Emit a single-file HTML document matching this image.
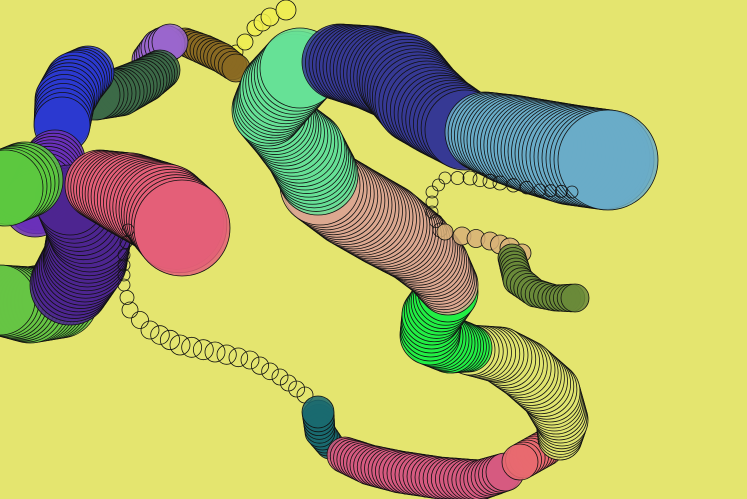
<!DOCTYPE html>
<html><head><meta charset="utf-8"><style>
html,body{margin:0;padding:0;background:#e4e56f;}
svg{display:block}
</style></head><body>
<svg id="chart" width="747" height="499" viewBox="0 0 747 499" xmlns="http://www.w3.org/2000/svg">
<rect width="747" height="499" fill="#e4e56f"/>
</svg>
<script>
// each trail: control points [x, y, radius], plus its colour
const trailYellowSmall = [[236,52,7],[245,42,8],[255,28,8],[270,17,9],[286,10,10]];
const trailBrown = [[185,42,14],[205,50,15],[222,58,15],[236,68,14]];
const trailLavender = [[150,60,18],[160,48,19],[170,42,18]];
const trailDarkGreen = [[160,70,20],[145,80,22],[120,92,24],[95,95,25]];
const trailBlue = [[88,72,26],[75,82,30],[65,100,30],[62,125,28]];
const trailPurpleTop = [[55,160,30],[45,185,32],[35,205,32]];
const trailGreenBottom = [[60,300,38],[30,305,38],[0,300,35]];
const trailDarkPurple = [[70,285,40],[85,260,42],[90,230,42],[70,200,35]];
const trailGreenLeft = [[25,180,38],[5,188,38]];
const trailPink = [[100,185,35],[130,195,42],[165,210,46],[182,228,48]];
const trailTinyLeft = [[128,230,6],[124,255,6],[124,285,6],[130,310,8],[150,330,9],[180,345,10],[215,352,10],[250,360,9],[280,377,8],[305,395,8]];
const trailTeal = [[330,445,14],[320,432,15],[318,412,16]];
const trailPinkBottom = [[345,455,18],[370,465,20],[400,472,21],[440,478,21],[480,480,20],[505,472,19]];
const trailLightRed = [[545,448,18],[520,462,18]];
const trailLightGreen = [[560,438,22],[562,420,26],[550,392,30],[525,370,30],[500,355,28],[470,350,25]];
const trailBrightGreen = [[468,348,24],[450,345,28],[430,335,30],[432,315,30],[448,292,30]];
const trailSalmon = [[448,285,30],[435,265,34],[415,245,38],[385,225,42],[350,205,42],[320,185,40]];
const trailMint = [[318,175,40],[305,150,40],[285,130,36],[268,110,36],[280,90,40],[300,68,40]];
const trailNavy = [[340,62,38],[372,68,42],[402,78,45],[420,100,45],[440,115,42],[465,130,40]];
const trailLightBlue = [[485,132,40],[512,140,45],[542,148,48],[572,155,50],[608,160,50]];
const trailTinyRight = [[440,230,7],[432,212,6],[432,192,6],[445,178,6],[470,178,7],[500,183,7],[540,190,6],[572,192,6]];
const trailTinyMid = [[445,232,8],[462,236,9],[490,241,9],[510,248,10],[522,253,9]];
const trailOlive = [[512,258,14],[518,280,15],[535,293,14],[555,298,13],[575,298,14]];

const trails = [
 ['trail-yellow-small', trailYellowSmall, '#f0ee50'],
 ['trail-brown', trailBrown, '#8a6a22'],
 ['trail-lavender', trailLavender, '#9a66cc'],
 ['trail-dark-green', trailDarkGreen, '#3c6a48'],
 ['trail-blue', trailBlue, '#2c3ad0'],
 ['trail-purple-top', trailPurpleTop, '#6a30b8'],
 ['trail-green-bottom', trailGreenBottom, '#66c444'],
 ['trail-dark-purple', trailDarkPurple, '#4e2690'],
 ['trail-green-left', trailGreenLeft, '#5cc840'],
 ['trail-pink', trailPink, '#e45f78'],
 ['trail-tiny-left', trailTinyLeft, 'none'],
 ['trail-teal', trailTeal, '#1a6a70'],
 ['trail-pink-bottom', trailPinkBottom, '#d65a80'],
 ['trail-light-red', trailLightRed, '#e86a70'],
 ['trail-light-green', trailLightGreen, '#dfe470'],
 ['trail-bright-green', trailBrightGreen, '#22ee44'],
 ['trail-salmon', trailSalmon, '#dca890'],
 ['trail-mint', trailMint, '#66e096'],
 ['trail-navy', trailNavy, '#363a94'],
 ['trail-light-blue', trailLightBlue, '#6aacc8'],
 ['trail-tiny-right', trailTinyRight, 'none'],
 ['trail-tiny-mid', trailTinyMid, '#d8b078'],
 ['trail-olive', trailOlive, '#6a8a3a']
];
const svg = document.getElementById('chart');
const NS = 'http://www.w3.org/2000/svg';
trails.forEach(([name, pts, color]) => {
  const g = document.createElementNS(NS, 'g');
  
  
  svg.appendChild(g);
  const big = pts.some(p => p[2] > 12);
  for (let i = 0; i < pts.length; i++) {
    const a = pts[i], b = pts[i + 1] || pts[i];
    const d = Math.hypot(b[0] - a[0], b[1] - a[1]);
    const n = (i === pts.length - 1) ? 1 : Math.max(1, Math.round(d / (big ? 4 : 12)));
    for (let k = 0; k < n; k++) {
      const t = k / n;
      const c = document.createElementNS(NS, 'circle');
      
      
      c.setAttribute('cx', a[0] + (b[0] - a[0]) * t);
      c.setAttribute('cy', a[1] + (b[1] - a[1]) * t);
      c.setAttribute('r', a[2] + (b[2] - a[2]) * t);
      c.setAttribute('fill', color);
      c.setAttribute('fill-opacity', color === 'none' ? 0 : 0.85);
      c.setAttribute('stroke', '#111');
      c.setAttribute('stroke-width', 0.8);
      g.appendChild(c);
    }
  }
});
</script>
</body></html>
